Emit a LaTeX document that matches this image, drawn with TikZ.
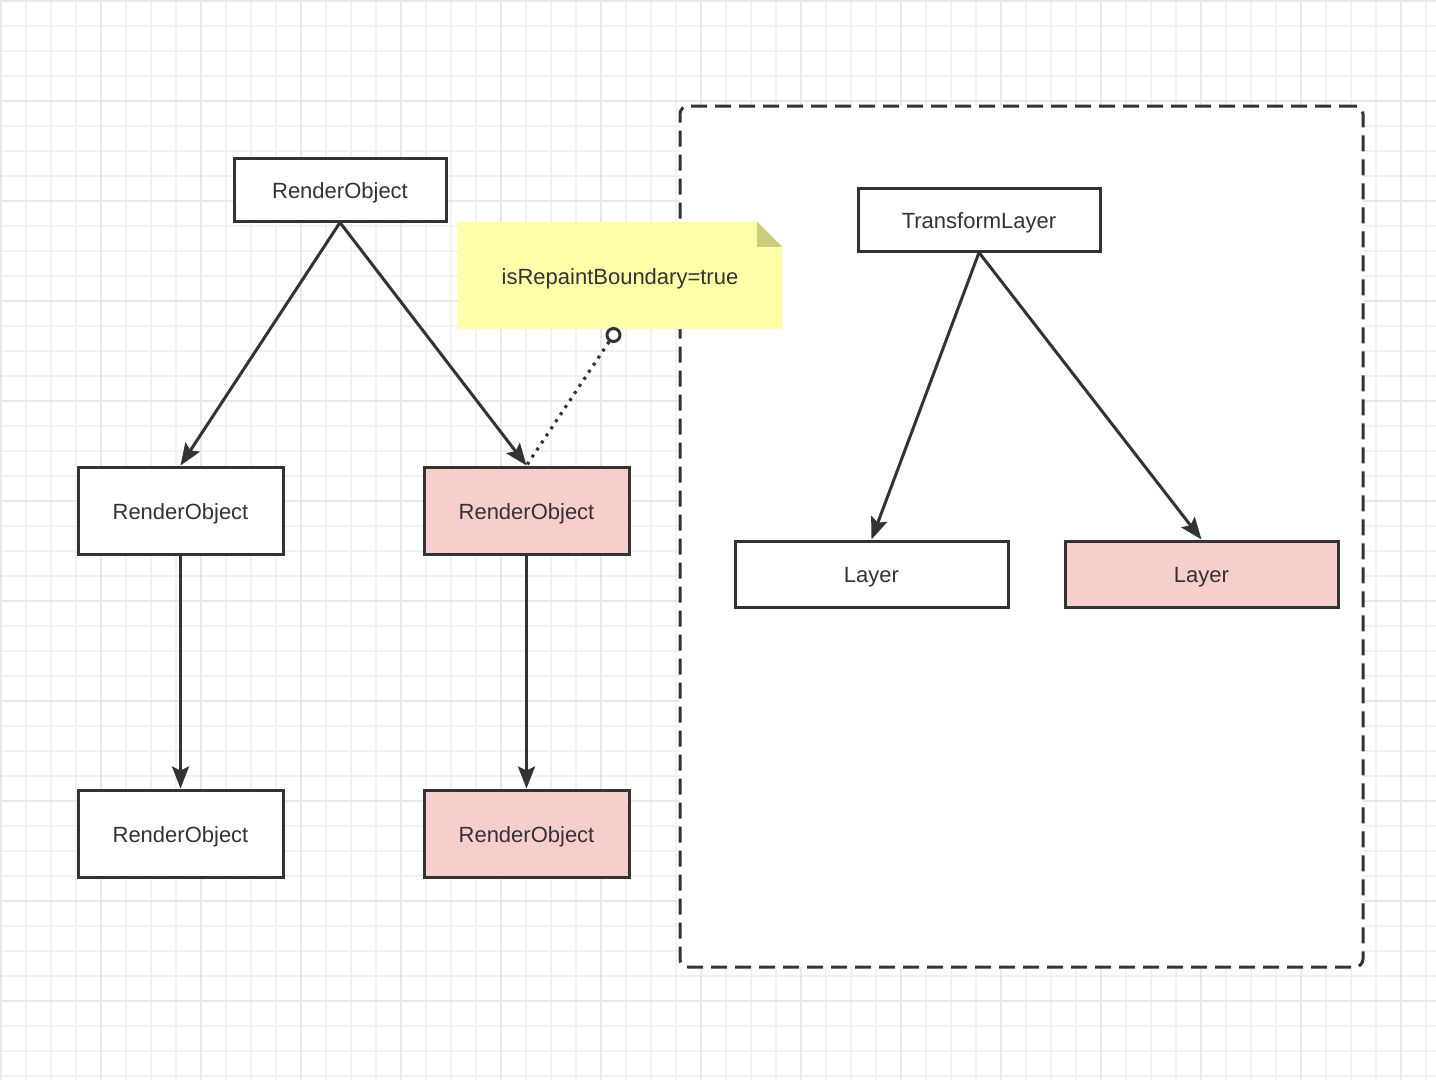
\documentclass[tikz,border=0pt]{standalone}
\usepackage{fontspec}
\setmainfont{Liberation Sans}
\usetikzlibrary{arrows.meta,calc}
\definecolor{strokec}{HTML}{333333}
\definecolor{pinkc}{HTML}{F8CECC}
\definecolor{notey}{HTML}{FFFFAA}
\definecolor{foldc}{HTML}{CCCC80}
\definecolor{gridc}{HTML}{F1F1F1}
\definecolor{gridm}{HTML}{E8E8E8}
\pgfdeclarelayer{gridlayer}
\pgfdeclarelayer{grouplayer}
\pgfdeclarelayer{notelayer}
\pgfsetlayers{gridlayer,grouplayer,notelayer,main}
\tikzset{
  txt/.style={font=\fontsize{22}{26}\selectfont, text=strokec, text height=17.5pt, text depth=0pt},
  box/.style={draw=strokec, line width=3pt, fill=white, inner sep=0pt, txt},
  pinkbox/.style={box, fill=pinkc},
  link/.style={draw=strokec, line width=3pt, -{Stealth[length=22pt,width=17pt,inset=4pt]}},
}
\begin{document}
\begin{tikzpicture}[x=1pt,y=-1pt]
\useasboundingbox (0,0) rectangle (1436,1080);
\begin{pgfonlayer}{gridlayer}
\fill[white] (0,0) rectangle (1436,1080);
\foreach \i in {0,...,57} {
  \draw[gridc, line width=1.2pt] ({1+25*\i},0) -- ({1+25*\i},1080);
}
\foreach \i in {0,...,43} {
  \draw[gridc, line width=1.2pt] (0,{1+25*\i}) -- (1436,{1+25*\i});
}
\foreach \i in {0,...,14} {
  \draw[gridm, line width=1.6pt] ({1+100*\i},0) -- ({1+100*\i},1080);
}
\foreach \i in {0,...,10} {
  \draw[gridm, line width=1.6pt] (0,{1+100*\i}) -- (1436,{1+100*\i});
}
\end{pgfonlayer}

% dashed group
\begin{pgfonlayer}{grouplayer}
\node[draw=strokec, fill=white, line width=3pt, dash pattern=on 16pt off 8pt,
  rounded corners=8pt, minimum width=683pt, minimum height=861pt, inner sep=0pt]
  (group) at (1021.5,536.5) {};
\end{pgfonlayer}

% note
\node[minimum width=324pt, minimum height=107pt, inner sep=0pt, txt] (note) at (620,275.5) {isRepaintBoundary=true};
\begin{pgfonlayer}{notelayer}
\fill[notey] (note.south west) |- ($(note.north east)+(-25,0)$) -- ($(note.north east)+(0,25)$) |- cycle;
\fill[foldc] ($(note.north east)+(-25,0)$) -- ($(note.north east)+(0,25)$) -- ($(note.north east)+(-25,25)$) -- cycle;
\end{pgfonlayer}

% render objects
\node[box, minimum width=212pt, minimum height=63pt] (r0) at (340,189.5) {RenderObject};
\node[box, minimum width=205pt, minimum height=87pt] (r1) at (180.5,510.5) {RenderObject};
\node[pinkbox, minimum width=205pt, minimum height=87pt] (r2) at (526.5,510.5) {RenderObject};
\node[box, minimum width=205pt, minimum height=87pt] (r3) at (180.5,833.5) {RenderObject};
\node[pinkbox, minimum width=205pt, minimum height=87pt] (r4) at (526.5,833.5) {RenderObject};

% layers
\node[box, minimum width=242pt, minimum height=63pt] (tl) at (979,219.5) {TransformLayer};
\node[box, minimum width=273pt, minimum height=66pt] (l1) at (871.5,574) {Layer};
\node[pinkbox, minimum width=273pt, minimum height=66pt] (l2) at (1201.5,574) {Layer};

% connectors
\draw[link] (r0.south) -- (r1.north);
\draw[link] (r0.south) -- (r2.north);
\draw[link] (r1.south) -- (r3.north);
\draw[link] (r2.south) -- (r4.north);
\draw[link] (tl.south) -- (l1.north);
\draw[link] (tl.south) -- (l2.north);

% dotted note link
\node[circle, draw=strokec, fill=white, line width=3pt, minimum size=13pt, inner sep=0pt] (dot) at (613.5,335) {};
\draw[strokec, line width=3.2pt, dash pattern=on 3pt off 5.5pt] (dot) -- (r2.north);
\end{tikzpicture}
\end{document}
